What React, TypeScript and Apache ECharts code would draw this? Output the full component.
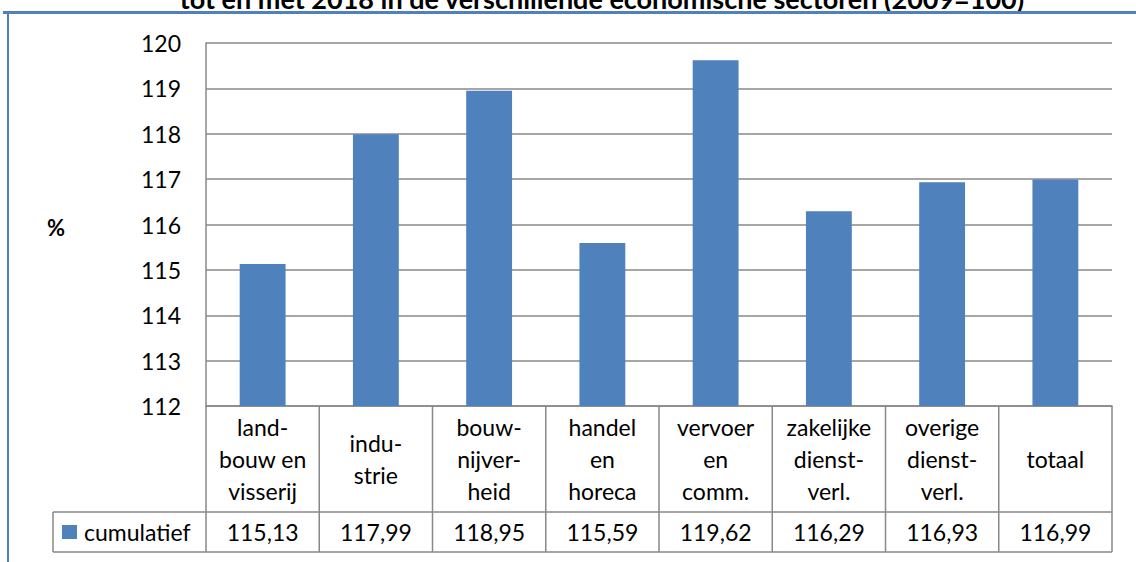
import React, { useEffect, useRef } from "react";
import * as echarts from "echarts";

const categories = [
  "land-\nbouw en\nvisserij",
  "indu-\nstrie",
  "bouw-\nnijver-\nheid",
  "handel\nen\nhoreca",
  "vervoer\nen\ncomm.",
  "zakelijke\ndienst-\nverl.",
  "overige\ndienst-\nverl.",
  "totaal",
];
const cumulatief = [115.13, 117.99, 118.95, 115.59, 119.62, 116.29, 116.93, 116.99];
const seriesName = "cumulatief";
const yMin = 112;
const yMax = 120;
const yInterval = 1;
const titleText = "tot en met 2018 in de verschillende economische sectoren (2009=100)";
const yAxisTitle = "%";

const W = 1136;
const H = 562;
const GL = 206;
const GR = 1112;
const GT = 43;
const GB = 406;
const ROW1 = 512;
const ROW2 = 552;
const LEG_L = 53;
const FONT = "Lato, 'Open Sans', sans-serif";
const BLUE = "#4F81BD";
const GRAY = "#888888";

const fmt = (v: number) => v.toFixed(2).replace(".", ",");

export default function App() {
  const ref = useRef<HTMLDivElement>(null);
  useEffect(() => {
    if (!ref.current) return;
    const chart = echarts.init(ref.current, null, { renderer: "svg" });
    const n = categories.length;
    const colW = (GR - GL) / n;
    const lines: any[] = [];
    const hLine = (x1: number, x2: number, y: number) => ({
      type: "line",
      shape: { x1, y1: y, x2, y2: y },
      style: { stroke: GRAY, lineWidth: 1.5 },
      z: 10,
    });
    const vLine = (x: number, y1: number, y2: number) => ({
      type: "line",
      shape: { x1: x, y1, x2: x, y2 },
      style: { stroke: GRAY, lineWidth: 1.5 },
      z: 10,
    });
    lines.push(hLine(LEG_L, GR, ROW1));
    lines.push(hLine(LEG_L, GR, ROW2));
    lines.push(vLine(LEG_L, ROW1, ROW2));
    for (let i = 0; i <= n; i++) {
      lines.push(vLine(GL + i * colW, GB, ROW2));
    }
    chart.setOption({
      animation: false,
      backgroundColor: "#ffffff",
      grid: { left: GL, right: W - GR, top: GT, bottom: H - GB, containLabel: false },
      xAxis: [
        {
          type: "category",
          data: categories,
          position: "bottom",
          axisLine: { show: true, lineStyle: { color: GRAY, width: 1.5 } },
          axisTick: { show: false },
          axisLabel: {
            interval: 0,
            margin: 53,
            verticalAlign: "middle",
            lineHeight: 32,
            fontSize: 23,
            fontFamily: FONT,
            color: "#000",
          },
        },
        {
          type: "category",
          data: categories,
          position: "bottom",
          offset: ROW1 - GB,
          axisLine: { show: false },
          axisTick: { show: false },
          axisLabel: {
            interval: 0,
            margin: (ROW2 - ROW1) / 2,
            verticalAlign: "middle",
            fontSize: 23,
            fontFamily: FONT,
            color: "#000",
            formatter: (_v: string, idx: number) => fmt(cumulatief[idx]),
          },
        },
      ],
      yAxis: {
        type: "value",
        min: yMin,
        max: yMax,
        interval: yInterval,
        axisLine: { show: true, lineStyle: { color: GRAY, width: 1.5 } },
        axisTick: { show: false },
        splitLine: { show: true, lineStyle: { color: GRAY, width: 1.5 } },
        axisLabel: { margin: 25, fontSize: 23, fontFamily: FONT, color: "#000" },
      },
      series: [
        {
          name: seriesName,
          type: "bar",
          xAxisIndex: 0,
          data: cumulatief,
          barWidth: "40.5%",
          itemStyle: { color: BLUE },
        },
      ],
      graphic: [
        {
          type: "text",
          x: 602,
          y: 12,
          style: {
            text: titleText,
            font: `bold 27px ${FONT}`,
            fill: "#000",
            align: "center",
            verticalAlign: "bottom",
          },
        },
        { type: "rect", shape: { x: 3, y: 11, width: W - 3, height: 3 }, style: { fill: BLUE }, z: 20 },
        { type: "rect", shape: { x: 7, y: 11, width: 2, height: H - 11 }, style: { fill: BLUE }, z: 20 },
        ...lines,
        { type: "rect", shape: { x: 62, y: 525, width: 15, height: 14 }, style: { fill: BLUE }, z: 10 },
        {
          type: "text",
          x: 84,
          y: (ROW1 + ROW2) / 2,
          style: { text: seriesName, font: `23px ${FONT}`, fill: "#000", align: "left", verticalAlign: "middle" },
          z: 10,
        },
        {
          type: "text",
          x: 56,
          y: 227,
          style: { text: yAxisTitle, font: `bold 22px ${FONT}`, fill: "#000", align: "center", verticalAlign: "middle" },
          z: 10,
        },
      ],
    });
    return () => chart.dispose();
  }, []);
  return <div ref={ref} style={{ position: "absolute", left: 0, top: 0, width: W, height: H }} />;
}
